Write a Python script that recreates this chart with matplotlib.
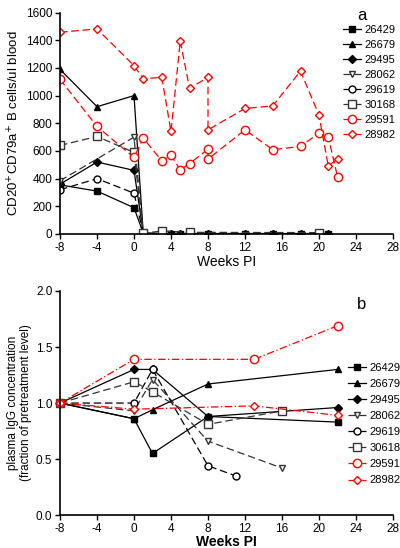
import numpy as np
import matplotlib
matplotlib.use("Agg")
import matplotlib.pyplot as plt

plt.rcParams['font.family'] = ['Liberation Sans', 'DejaVu Sans']
plt.rcParams['axes.unicode_minus'] = False

# ------------------------------
# Panel a: B cell counts
# ------------------------------
ids_a = ["26429", "26679", "29495", "28062", "29619", "30168", "29591", "28982"]
late_x = [1, 3, 4, 5, 6, 8, 12, 15, 18, 21]
late_y = [5, 3, 3, 3, 3, 3, 3, 3, 3, 3]

a_x = {
    "26429": [-8, -4, 0] + late_x,
    "26679": [-8, -4, 0] + late_x,
    "29495": [-8, -4, 0] + late_x,
    "28062": [-8, 0, 1, 3, 20],
    "29619": [-8, -4, 0, 1, 3],
    "30168": [-8, -4, 0, 1, 3, 6, 20],
    "29591": [-8, -4, 0, 1, 3, 4, 5, 6, 8, 8, 12, 15, 18, 20, 21, 22],
    "28982": [-8, -4, 0, 1, 3, 4, 5, 6, 8, 8, 12, 15, 18, 20, 21, 22],
}
a_y = {
    "26429": [355, 310, 190] + late_y,
    "26679": [1190, 920, 1000] + late_y,
    "29495": [360, 520, 460] + late_y,
    "28062": [385, 700, 5, 3, 10],
    "29619": [320, 400, 295, 5, 3],
    "30168": [640, 705, 590, 5, 22, 12, 10],
    "29591": [1118, 777, 553, 693, 529, 569, 464, 508, 614, 541, 753, 609, 633, 729, 703, 414],
    "28982": [1458, 1482, 1217, 1121, 1133, 741, 1395, 1054, 1131, 753, 907, 926, 1177, 859, 491, 541],
}

# ------------------------------
# Panel b: plasma IgG
# ------------------------------
ids_b = ["26429", "26679", "29495", "28062", "29619", "30618", "29591", "28982"]
b_x = {
    "26429": [-8, 0, 2, 8, 22],
    "26679": [-8, 0, 2, 8, 22],
    "29495": [-8, 0, 2, 8, 22],
    "28062": [-8, 0, 2, 8, 16],
    "29619": [-8, 0, 2, 8, 11],
    "30618": [-8, 0, 2, 8, 16],
    "29591": [-8, 0, 13, 22],
    "28982": [-8, 0, 13, 22],
}
b_y = {
    "26429": [1.0, 0.86, 0.55, 0.88, 0.83],
    "26679": [1.0, 0.86, 0.94, 1.17, 1.30],
    "29495": [1.0, 1.30, 1.30, 0.88, 0.96],
    "28062": [1.0, 0.93, 1.21, 0.66, 0.42],
    "29619": [1.0, 1.00, 1.30, 0.44, 0.35],
    "30618": [1.0, 1.19, 1.10, 0.81, 0.93],
    "29591": [1.0, 1.39, 1.39, 1.69],
    "28982": [1.0, 0.945, 0.975, 0.89],
}

# marker / line style per position in the legend
styles = [
    dict(color='black', marker='s', mfc='black', ms=5, ls='-'),
    dict(color='black', marker='^', mfc='black', ms=5, ls='-'),
    dict(color='black', marker='D', mfc='black', ms=4, ls='-'),
    dict(color='#333333', marker='v', mfc='white', ms=5, ls=(0, (6, 3))),
    dict(color='black', marker='o', mfc='white', ms=5, ls=(0, (6, 3))),
    dict(color='#333333', marker='s', mfc='white', ms=6, ls=(0, (6, 3))),
    dict(color='red', marker='o', mfc='white', ms=6, ls=(0, (6, 3))),
    dict(color='red', marker='D', mfc='white', ms=4.5, ls=(0, (6, 3))),
]

fig = plt.figure(figsize=(4.0, 5.48), dpi=100)
ax1 = fig.add_axes([0.15, 0.573, 0.8325, 0.404])
ax2 = fig.add_axes([0.15, 0.060, 0.8325, 0.409])

for i, key in enumerate(ids_a):
    st = styles[i]
    ax1.plot(a_x[key], a_y[key], color=st['color'], marker=st['marker'], mfc=st['mfc'],
             mec=st['color'], ms=st['ms'], ls=st['ls'], lw=0.9, mew=1.0, label=key)

for i, key in enumerate(ids_b):
    st = dict(styles[i])
    if st['color'] == 'red':
        st['ls'] = (0, (6, 2, 1, 2))
    ax2.plot(b_x[key], b_y[key], color=st['color'], marker=st['marker'], mfc=st['mfc'],
             mec=st['color'], ms=st['ms'], ls=st['ls'], lw=0.9, mew=1.0, label=key,
             clip_on=False)

for ax in (ax1, ax2):
    ax.spines['top'].set_visible(False)
    ax.spines['right'].set_visible(False)
    ax.spines['left'].set_linewidth(1.2)
    ax.spines['bottom'].set_linewidth(1.2)
    ax.set_xlim(-8, 28)
    ax.set_xticks(np.arange(-8, 29, 4))
    ax.tick_params(labelsize=8.5, width=1.0, length=3.5, pad=2)

ax1.set_ylim(0, 1600)
ax1.set_yticks(np.arange(0, 1601, 200))
ax1.set_xlabel("Weeks PI", fontsize=10, labelpad=1)
ax1.set_ylabel("CD20$^{+}$CD79a$^{+}$ B cells/ul blood", fontsize=9.5, labelpad=3)

ax2.set_ylim(0, 2.0)
ax2.set_yticks(np.arange(0, 2.01, 0.5))
ax2.set_yticklabels(["0.0", "0.5", "1.0", "1.5", "2.0"])
ax2.set_xlabel("Weeks PI", fontsize=10, fontweight='bold', labelpad=0)
ax2.set_ylabel("plasma IgG concentration\n(fraction of pretreatment level)", fontsize=8.5,
               labelpad=3, linespacing=1.1)

leg_kw = dict(frameon=False, fontsize=8, handlelength=1.6, handletextpad=0.3,
              borderaxespad=0, borderpad=0)
ax1.legend(loc='upper left', bbox_to_anchor=(0.85, 0.945), labelspacing=0.45, **leg_kw)
ax2.legend(loc='upper left', bbox_to_anchor=(0.865, 0.68), labelspacing=0.55, **leg_kw)

fig.text(0.905, 0.985, "a", fontsize=12, ha='center', va='top')
fig.text(0.905, 0.458, "b", fontsize=12, ha='center', va='top')

fig.savefig("out.png", dpi=100)
